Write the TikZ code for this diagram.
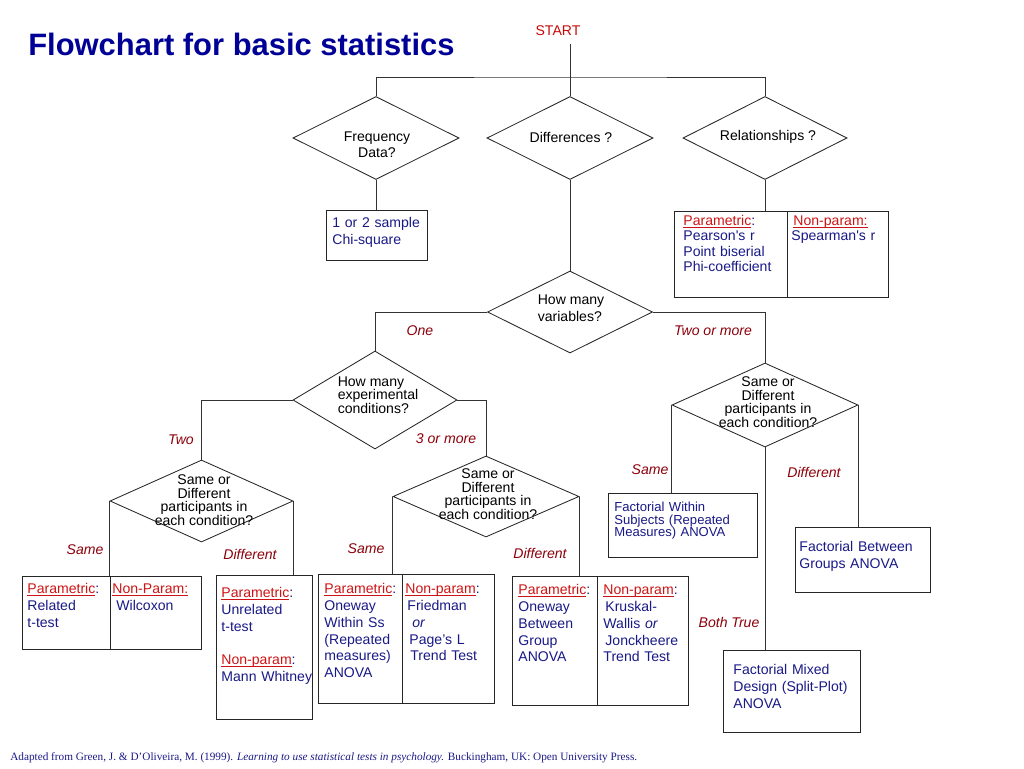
\documentclass[tikz,border=0pt]{standalone}
\usepackage{fontspec}
\setmainfont{Liberation Sans}
\newfontfamily\refserif{Liberation Serif}
\usepackage{xcolor}
\usepackage{tikz}
\usetikzlibrary{shapes.geometric}

\definecolor{titleblue}{RGB}{0,0,150}
\definecolor{txtblue}{RGB}{25,25,135}
\definecolor{hdrred}{RGB}{205,20,20}
\definecolor{lblred}{RGB}{140,0,10}
\definecolor{startred}{RGB}{200,10,10}

% red underlined column heading
\newcommand{\hdr}[1]{\textcolor{hdrred}{\setbox0\hbox{#1}\rlap{\rule[-1.4pt]{\wd0}{0.45pt}}\box0}}

\begin{document}
\begin{tikzpicture}[x=0.25mm, y=-0.25mm,
  conn/.style={draw=black!80, line width=0.6pt},
  dia/.style={diamond, draw=black!85, line width=0.6pt, inner sep=0pt},
  dtxt/.style={align=center, inner sep=0pt, font=\fontsize{10}{9.6}\selectfont},
  cell/.style={draw=black!85, line width=0.6pt, anchor=north west, align=left,
    inner ysep=0pt, text=txtblue, font=\fontsize{10}{12}\selectfont},
  lbl/.style={text=lblred, font=\fontsize{10}{12}\selectfont\itshape}]
\useasboundingbox (0,0) rectangle (1024,768);
% ---- title and start ----
\node[anchor=base west, inner sep=0pt, text=titleblue, font=\fontsize{22}{26}\selectfont\bfseries]
  (title) at (28,55) {Flowchart for basic statistics};
\node[text=startred, font=\fontsize{10}{12}\selectfont, inner sep=4pt, outer sep=2pt]
  (start) at (558,31) {START};
\coordinate (top) at (570,77);
% ---- first row of questions ----
\node[dia, minimum width=41.5mm, minimum height=20.75mm] (freq) at (376,138) {};
\node[dia, minimum width=41.5mm, minimum height=20.75mm] (diff) at (570,138) {};
\node[dia, minimum width=41mm, minimum height=20.75mm] (rel) at (765,138) {};
\node[dtxt, font=\fontsize{10}{11.5}\selectfont] (freq-t) at (377,145) {Frequency\\Data?};
\node[dtxt] (diff-t) at (571,137) {Differences ?};
\node[dtxt] (rel-t) at (768,137) {Relationships ?};
\node[cell, inner xsep=1.5mm, text width=22.25mm, text height=4.25mm, text depth=8.25mm]
  (chi) at (326,210) {1 or 2 sample\\Chi-square};
\node[cell, font=\fontsize{10}{11}\selectfont, inner xsep=2.25mm, text width=23.75mm,
  text height=3.5mm, text depth=18mm] (relL) at (674,211)
  {\hdr{Parametric}:\\Pearson\textquotesingle s r\\Point biserial\\Phi-coefficient};
\node[cell, font=\fontsize{10}{11}\selectfont, inner xsep=1.5mm, text width=22.25mm,
  text height=3.5mm, text depth=18mm] (relR) at (787,211)
  {\hdr{Non-param:}\\[-0.5pt]\hspace*{-0.5mm}Spearman\textquotesingle s r};
% ---- differences: variables and conditions ----
\node[dia, minimum width=41.25mm, minimum height=20.5mm] (vars) at (570,312) {};
\node[dtxt, align=left, font=\fontsize{10}{12}\selectfont] (vars-t) at (571,308) {How many\\variables?};
\node[dia, minimum width=41mm, minimum height=24.5mm] (exp) at (375,400) {};
\node[dtxt, align=left] (exp-t) at (378,395) {How many\\experimental\\conditions?};
\node[dia, minimum width=45.75mm, minimum height=20.5mm] (p1) at (201.5,501) {};
\node[dtxt] (p1-t) at (204,500) {Same or\\Different\\participants in\\each condition?};
\node[dia, minimum width=46.5mm, minimum height=20.25mm] (p2) at (486,496.5) {};
\node[dtxt] (p2-t) at (488,494) {Same or\\Different\\participants in\\each condition?};
\node[dia, minimum width=46.5mm, minimum height=21mm] (p3) at (765,405) {};
\node[dtxt] (p3-t) at (768,402) {Same or\\Different\\participants in\\each condition?};
% ---- test boxes, bottom row ----
\node[cell, inner xsep=1.25mm, text width=19.5mm, text height=4.25mm, text depth=14mm]
  (b1l) at (22,576) {\hdr{Parametric}:\\Related\\t-test};
\node[cell, inner xsep=0.5mm, text width=21.75mm, text height=4.25mm, text depth=14mm]
  (b1r) at (110,576) {\hdr{Non-Param:}\\\hspace*{1mm}Wilcoxon};
\node[cell, inner xsep=1.25mm, text width=21.5mm, text height=5.5mm, text depth=30.5mm]
  (b2) at (216,575) {\hdr{Parametric}:\\Unrelated\\t-test\\[12pt]\hdr{Non-param}:\\\mbox{Mann Whitney}};
\node[cell, inner xsep=1.5mm, text width=18mm, text height=4.75mm, text depth=27.5mm]
  (b3l) at (318,574) {\hdr{Parametric}:\\Oneway\\Within Ss\\(Repeated\\measures)\\ANOVA};
\node[cell, inner xsep=0.75mm, text width=21.5mm, text height=4.75mm, text depth=27.5mm]
  (b3r) at (402,574) {\hdr{Non-param}:\\\hspace*{0.5mm}Friedman\\\hspace*{1.75mm}\textit{or}\\\hspace*{1mm}Page’s L\\\hspace*{1.25mm}Trend Test};
\node[cell, inner xsep=1.5mm, text width=18.25mm, text height=4.5mm, text depth=27.75mm]
  (b4l) at (512,576) {\hdr{Parametric}:\\Oneway\\Between\\Group\\ANOVA};
\node[cell, inner xsep=1.5mm, text width=19.75mm, text height=4.5mm, text depth=27.75mm]
  (b4r) at (597,576) {\hdr{Non-param}:\\\hspace*{0.5mm}Kruskal-\\Wallis \textit{or}\\\hspace*{0.5mm}Jonckheere\\Trend Test};
% ---- factorial designs ----
\node[cell, font=\fontsize{9.3}{9}\selectfont, inner xsep=1.5mm, text width=34.25mm,
  text height=4.5mm, text depth=11.5mm] (fw) at (608,493)
  {Factorial Within\\Subjects (Repeated\\Measures) ANOVA};
\node[cell, inner xsep=1mm, text width=31.75mm, text height=6mm, text depth=10.25mm]
  (fb) at (795,527) {Factorial Between\\Groups ANOVA};
\node[cell, inner xsep=2.5mm, text width=29.25mm, text height=6mm, text depth=14.5mm]
  (fm) at (723,650) {Factorial Mixed\\Design (Split-Plot)\\ANOVA};
% ---- connectors ----
\draw[conn] (start.south -| top) -- (diff.north);
\draw[conn] (freq.north) |- (top) -| (rel.north);
\draw[conn] (freq.south) -- (freq.south |- chi.north);
\draw[conn] (rel.south) -- (rel.south |- relL.north);
\draw[conn] (diff.south) -- (vars.north);
\draw[conn] (vars.west) -| (exp.north);
\draw[conn] (vars.east) -| (p3.north);
\draw[conn] (exp.west) -| (p1.north);
\draw[conn] (exp.east) -| (p2.north);
\draw[conn] (p1.west) -- (p1.west |- b1l.north);
\draw[conn] (p1.east) -- (p1.east |- b2.north);
\draw[conn] (p2.west) -- (p2.west |- b3l.north);
\draw[conn] (p2.east) -- (p2.east |- b4l.north);
\draw[conn] (p3.west) -- (p3.west |- fw.north);
\draw[conn] (p3.east) -- (p3.east |- fb.north);
\draw[conn] (p3.south) -- (p3.south |- fm.north);
% ---- branch labels ----
\node[lbl] (one) at (420,331) {One};
\node[lbl] (twomore) at (713,331) {Two or more};
\node[lbl] (two) at (181,440) {Two};
\node[lbl] (threemore) at (446,439) {3 or more};
\node[lbl] (same1) at (85,550) {Same};
\node[lbl] (diff1) at (250,554) {Different};
\node[lbl] (same2) at (366,549) {Same};
\node[lbl] (diff2) at (540,553) {Different};
\node[lbl] (same3) at (650,470) {Same};
\node[lbl] (diff3) at (814,472) {Different};
\node[lbl] (both) at (729,622) {Both True};
% source (below panel)
\node[anchor=base west, inner sep=0pt, text=txtblue, font=\refserif\fontsize{8}{10}\selectfont]
  (src) at (10,760) {Adapted from Green, J. \& D’Oliveira, M. (1999). \textit{Learning to use statistical tests in psychology.} Buckingham, UK: Open University Press.};
\end{tikzpicture}
\end{document}
